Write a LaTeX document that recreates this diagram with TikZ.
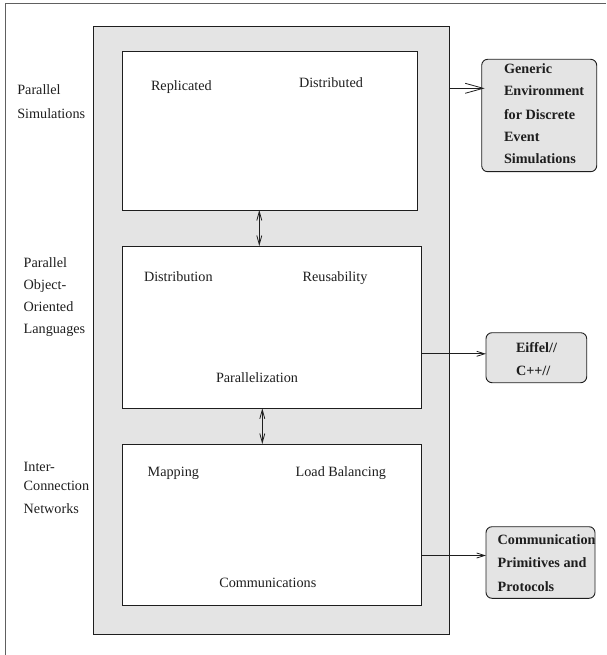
\documentclass[tikz,border=0pt]{standalone}
\usepackage{fontspec}
\setmainfont{Liberation Serif}
\usetikzlibrary{arrows.meta}
\definecolor{panel}{HTML}{E4E4E4}
\definecolor{ink}{HTML}{1E1E1E}
\begin{document}
\begin{tikzpicture}[x=1pt,y=-1pt,
  every node/.style={inner sep=0pt,outer sep=0pt},
  txt/.style={anchor=base west,font=\fontsize{14.2}{16}\selectfont,text=ink},
  btxt/.style={anchor=base west,font=\fontsize{14.2}{16}\selectfont\bfseries,text=ink},
  panelbox/.style={draw=ink,line width=0.9pt,fill=panel,rectangle},
  whitebox/.style={draw=ink,line width=0.8pt,fill=white,rectangle},
  sidebox/.style={draw=ink,line width=0.9pt,fill=panel,rounded corners=6pt,rectangle},
  link/.style={draw=ink,line width=0.8pt},
  bigtip/.style={link,-{Straight Barb[length=18pt,width=10pt,line width=0.8pt]}},
  smalltip/.style={link,-{Straight Barb[length=8pt,width=5pt,line width=0.8pt]}},
  dbltip/.style={link,{Straight Barb[length=9pt,width=5pt,line width=0.8pt]}-{Straight Barb[length=9pt,width=5pt,line width=0.8pt]}}
]
\useasboundingbox (0,0) rectangle (606,655);
% outer frame (only left and top visible)
\draw[draw=gray!75!black,line width=0.9pt] (5.3,655) -- (5.3,3.7) -- (606,3.7);

% main panel and the three layers
\node[panelbox,minimum width=356pt,minimum height=608pt] (panel) at (271.3,330.3) {};
\node[whitebox,minimum width=295.4pt,minimum height=158.3pt] (w1) at (270,130.85) {};
\node[whitebox,minimum width=298.7pt,minimum height=162.3pt] (w2) at (271.65,327.15) {};
\node[whitebox,minimum width=298.7pt,minimum height=161.7pt] (w3) at (271.65,524.85) {};

% side boxes
\node[sidebox,minimum width=115pt,minimum height=112.4pt] (A) at (539.2,115.5) {};
\node[sidebox,minimum width=100.7pt,minimum height=50pt] (B) at (536.35,357.7) {};
\node[sidebox,minimum width=109pt,minimum height=71.6pt] (C) at (540.5,562.5) {};

% left labels
\node[txt] (l1a) at (17.3,94.3) {Parallel};
\node[txt] (l1b) at (17.3,118.3) {Simulations};
\node[txt] (l2a) at (23.7,267.7) {Parallel};
\node[txt] (l2b) at (23.7,289.5) {Object-};
\node[txt] (l2c) at (23.7,311.2) {Oriented};
\node[txt] (l2d) at (23.7,333) {Languages};
\node[txt] (l3a) at (23.7,471.5) {Inter-};
\node[txt] (l3b) at (23.7,490.2) {Connection};
\node[txt] (l3c) at (23.7,513.2) {Networks};

% texts inside layers
\node[txt] (t1) at (151,90.7) {Replicated};
\node[txt] (t2) at (299,87.3) {Distributed};
\node[txt] (t3) at (144,281.7) {Distribution};
\node[txt] (t4) at (302.7,281.7) {Reusability};
\node[txt] (t5) at (216,382.7) {Parallelization};
\node[txt] (t6) at (147.7,476.7) {Mapping};
\node[txt] (t7) at (295.7,476.7) {Load Balancing};
\node[txt] (t8) at (219.3,587.7) {Communications};

% texts in side boxes
\node[btxt] (a1) at (504,73.3) {Generic};
\node[btxt] (a2) at (504,95.3) {Environment};
\node[btxt] (a3) at (504,119.5) {for Discrete};
\node[btxt] (a4) at (504,141.5) {Event};
\node[btxt] (a5) at (504,163.3) {Simulations};
\node[btxt] (b1) at (516,352.3) {Eiffel//};
\node[btxt] (b2) at (516,375.7) {C++//};
\node[btxt] (c1) at (497.7,544.3) {Communication};
\node[btxt] (c2) at (497.7,567.3) {Primitives and};
\node[btxt] (c3) at (497.7,591) {Protocols};

% connector helpers
\coordinate (x12) at (259.3,0);
\coordinate (x23) at (262.3,0);
\coordinate (yA) at (0,88.3);
\coordinate (yB) at (0,353.8);
\coordinate (yC) at (0,555.5);

% connectors
\draw[dbltip] (w1.south -| x12) -- (w2.north -| x12);
\draw[dbltip] (w2.south -| x23) -- (w3.north -| x23);
\draw[bigtip] (panel.east |- yA) -- ([xshift=3pt]A.west |- yA);
\draw[smalltip] (w2.east |- yB) -- (B.west |- yB);
\draw[smalltip] (w3.east |- yC) -- (C.west |- yC);
\end{tikzpicture}
\end{document}
